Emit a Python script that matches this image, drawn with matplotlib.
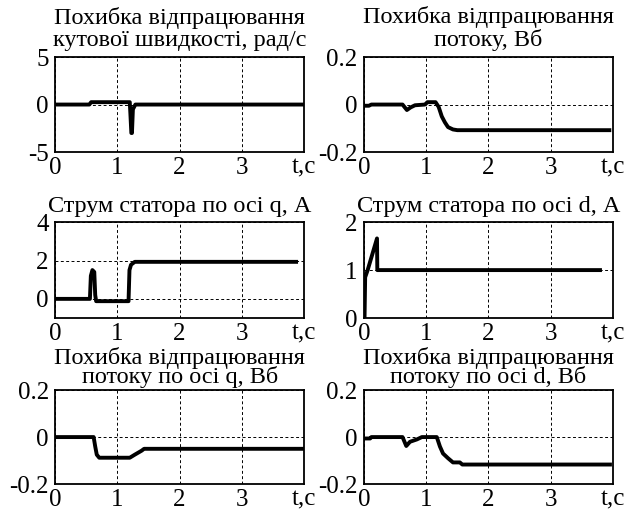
import matplotlib
matplotlib.use("Agg")
import matplotlib.pyplot as plt

plt.rcParams["font.family"] = ["Liberation Serif", "DejaVu Serif"]
plt.rcParams["axes.unicode_minus"] = False

# --- data (t in seconds) ---
t_w = [0, 0.55, 0.58, 1.20, 1.21, 1.225, 1.235, 1.25, 1.29, 4.0]
w_err = [0, 0, 0.25, 0.25, -1.0, -3.0, -3.0, -0.5, 0, 0]

t_psi = [0, 0.08, 0.12, 0.62, 0.69, 0.75, 0.82, 0.98, 1.02, 1.15, 1.2, 1.25, 1.3, 1.35, 1.43, 1.5, 3.94]
psi_err = [-0.005, -0.005, 0, 0, -0.023, -0.012, -0.003, 0, 0.01, 0.01, -0.01, -0.05, -0.075, -0.095, -0.105, -0.108, -0.108]

t_iq = [0, 0.56, 0.575, 0.6, 0.63, 0.645, 0.66, 1.18, 1.195, 1.22, 1.28, 3.87]
i_q = [0, 0, 1.2, 1.5, 1.4, 0.2, -0.12, -0.12, 1.5, 1.78, 1.93, 1.93]

t_id = [0.01, 0.02, 0.06, 0.21, 0.215, 3.79]
i_d = [0, 0.85, 1.0, 1.66, 1.0, 1.0]

t_pq = [0, 0.62, 0.645, 0.67, 0.71, 1.2, 1.28, 1.39, 1.43, 4.0]
psi_q = [0, 0, -0.04, -0.075, -0.088, -0.088, -0.075, -0.058, -0.05, -0.05]

t_pd = [0, 0.1, 0.12, 0.62, 0.68, 0.74, 0.85, 0.93, 1.17, 1.22, 1.27, 1.35, 1.43, 1.54, 1.58, 3.95]
psi_d = [-0.006, -0.006, 0, 0, -0.038, -0.02, -0.01, 0, 0, -0.04, -0.07, -0.09, -0.108, -0.108, -0.117, -0.117]

x_ticks = [0, 1, 2, 3, 4]
x_labels = ["0", "1", "2", "3", "t,c"]

panels = [
    # (t, y, ylim, yticks, yticklabels, title, rect, title pad, linespacing)
    (t_w, w_err, (-5, 5), [-5, 0, 5], ["-5", "0", "5"],
     "Похибка відпрацювання\nкутової швидкості, рад/с",
     [0.0868, 0.7037, 0.393, 0.185], 8, 1.04),
    (t_psi, psi_err, (-0.2, 0.2), [-0.2, 0, 0.2], ["-0.2", "0", "0.2"],
     "Похибка відпрацювання\nпотоку, Вб",
     [0.574, 0.7037, 0.393, 0.185], 8, 1.04),
    (t_iq, i_q, (-1, 4), [0, 2, 4], ["0", "2", "4"],
     "Струм статора по осі q, А",
     [0.0868, 0.380, 0.393, 0.187], 7, 1.0),
    (t_id, i_d, (0, 2), [0, 1, 2], ["0", "1", "2"],
     "Струм статора по осі d, А",
     [0.574, 0.380, 0.393, 0.187], 7, 1.0),
    (t_pq, psi_q, (-0.2, 0.2), [-0.2, 0, 0.2], ["-0.2", "0", "0.2"],
     "Похибка відпрацювання\nпотоку по осі q, Вб",
     [0.0868, 0.0565, 0.393, 0.183], 5, 0.83),
    (t_pd, psi_d, (-0.2, 0.2), [-0.2, 0, 0.2], ["-0.2", "0", "0.2"],
     "Похибка відпрацювання\nпотоку по осі d, Вб",
     [0.574, 0.0565, 0.393, 0.183], 5, 0.83),
]

fig = plt.figure(figsize=(6.34, 5.13), dpi=100, facecolor="white")

for t, y, ylim, yt, ytl, title, rect, pad, ls in panels:
    ax = fig.add_axes(rect)
    ax.plot(t, y, color="black", lw=2.8, solid_joinstyle="round", zorder=3)
    ax.set_xlim(0, 4)
    ax.set_ylim(*ylim)
    ax.set_xticks(x_ticks)
    ax.set_xticklabels(x_labels)
    ax.set_yticks(yt)
    ax.set_yticklabels(ytl)
    ax.tick_params(length=0, labelsize=18, pad=3.5)
    ax.tick_params(axis="y", pad=4.5)
    ax.grid(True, color="black", lw=0.7, linestyle=(0, (3, 2.5)))
    for s in ax.spines.values():
        s.set_linewidth(1.3)
    ax.set_title(title, fontsize=17.5, pad=pad, linespacing=ls)

fig.savefig("out.png", dpi=100, facecolor="white")
